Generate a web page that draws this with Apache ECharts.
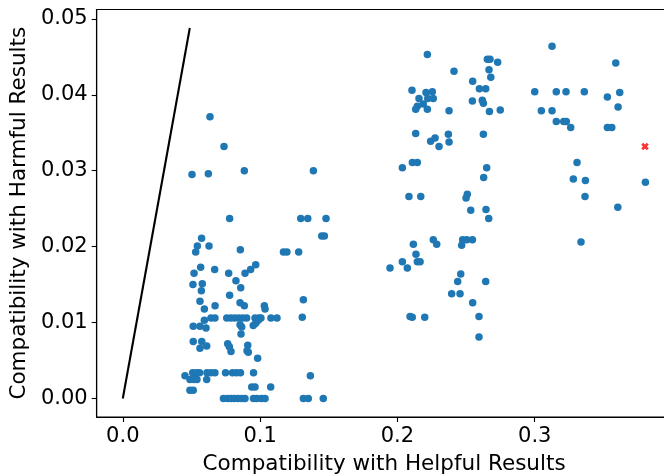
<!DOCTYPE html>
<html>
<head>
<meta charset="utf-8">
<script src="https://cdn.jsdelivr.net/npm/echarts@6/dist/echarts.min.js"></script>
<style>
html,body{margin:0;padding:0;background:#fff;}
#chart{width:664px;height:476px;}
</style>
</head>
<body>
<div id="chart"></div>
<script>
// Tick labels
const xTicks = [0, 0.1, 0.2, 0.3];
const yTicks = [0, 0.01, 0.02, 0.03, 0.04, 0.05];

// Reference line (x, y)
const refLine = [[0, 0], [0.0488, 0.0488]];

// Highlighted point (red x)
const highlight = [[0.3803, 0.0332]];

// Lower-left cluster: [helpful, harmful]
const lowCluster = [
  [0.0504,0.0295],[0.0623,0.0296],[0.0885,0.0300],[0.0778,0.0237],[0.0574,0.0211],
  [0.0543,0.0201],[0.0628,0.0201],[0.0531,0.0193],[0.0856,0.0196],[0.1170,0.0193],
  [0.1195,0.0193],[0.0567,0.0173],[0.0669,0.0170],[0.0519,0.0165],[0.0771,0.0165],
  [0.0890,0.0165],[0.0931,0.0170],[0.0968,0.0176],[0.0824,0.0155],[0.0511,0.0150],
  [0.0579,0.0151],[0.0859,0.0146],[0.0572,0.0142],[0.0778,0.0136],[0.0635,0.0371],
  [0.0737,0.0332],
  [0.0562,0.0128],[0.0672,0.0122],[0.0594,0.0118],[0.0854,0.0126],[0.0885,0.0122],
  [0.1031,0.0122],[0.1036,0.0118],[0.0594,0.0103],
  [0.0642,0.0106],[0.0671,0.0106],[0.0757,0.0106],[0.0786,0.0106],[0.0815,0.0106],
  [0.0844,0.0106],[0.0873,0.0106],[0.0902,0.0106],[0.0963,0.0106],[0.0992,0.0106],
  [0.1006,0.0106],[0.1079,0.0106],[0.1123,0.0106],
  [0.0513,0.0095],[0.0562,0.0095],[0.0606,0.0093],[0.0854,0.0097],[0.0866,0.0094],
  [0.0950,0.0096],[0.0968,0.0099],[0.0987,0.0103],[0.0861,0.0085],
  [0.0513,0.0075],[0.0575,0.0075],[0.0562,0.0066],[0.0611,0.0069],
  [0.0764,0.0072],[0.0776,0.0068],[0.0788,0.0062],
  [0.0910,0.0070],[0.0905,0.0063],[0.0914,0.0061],[0.0982,0.0053],
  [0.0509,0.0034],[0.0537,0.0034],[0.0559,0.0034],[0.0613,0.0034],[0.0642,0.0034],
  [0.0671,0.0034],[0.0748,0.0034],[0.0799,0.0034],[0.0828,0.0034],[0.0857,0.0034],
  [0.0952,0.0034],[0.0453,0.0030],
  [0.0489,0.0025],[0.0518,0.0025],[0.0540,0.0025],[0.0611,0.0025],
  [0.0939,0.0015],[0.0963,0.0015],[0.1077,0.0015],
  [0.0489,0.0011],[0.0513,0.0011],
  [0.0733,0],[0.0763,0],[0.0788,0],[0.0814,0],[0.0839,0],[0.0865,0],[0.0890,0],
  [0.0952,0],[0.0977,0],[0.1010,0],[0.1036,0],
  [0.1366,0.0030],[0.1315,0],[0.1351,0],[0.1460,0],
  [0.1315,0.0130],[0.1307,0.0107],
  [0.1388,0.0300],[0.1296,0.0237],[0.1347,0.0237],[0.1480,0.0237],[0.1449,0.0214],
  [0.1468,0.0214],[0.1281,0.0193]
];

// Middle cluster
const midCluster = [
  [0.2218,0.0453],[0.2412,0.0431],[0.2106,0.0406],[0.2208,0.0403],[0.2254,0.0404],
  [0.2157,0.0395],[0.2221,0.0395],[0.2261,0.0395],[0.2188,0.0388],[0.2145,0.0385],
  [0.2133,0.0381],[0.2218,0.0381],[0.2376,0.0379],[0.2133,0.0349],[0.2242,0.0339],
  [0.2274,0.0343],[0.2371,0.0348],[0.2376,0.0338],[0.2303,0.0332],[0.2626,0.0348],
  [0.2655,0.0447],[0.2674,0.0447],[0.2730,0.0443],[0.2667,0.0433],[0.2680,0.0423],
  [0.2548,0.0418],[0.2597,0.0408],[0.2643,0.0408],[0.2546,0.0392],[0.2618,0.0393],
  [0.2626,0.0389],[0.2670,0.0378],[0.2749,0.0380],
  [0.2036,0.0304],[0.2109,0.0311],[0.2145,0.0311],[0.2650,0.0304],[0.2628,0.0291],
  [0.2084,0.0266],[0.2170,0.0266],[0.2509,0.0269],[0.2500,0.0264],[0.2534,0.0248],
  [0.2645,0.0249],[0.2665,0.0237],[0.2116,0.0203],[0.2135,0.0190],[0.2036,0.0180],
  [0.1946,0.0172],[0.2072,0.0172],[0.2145,0.0180],[0.2165,0.0180],[0.2261,0.0209],
  [0.2286,0.0203],[0.2475,0.0209],[0.2505,0.0209],[0.2546,0.0209],[0.2468,0.0202],
  [0.2461,0.0164],[0.2439,0.0154],[0.2643,0.0154],
  [0.2092,0.0108],[0.2108,0.0107],[0.2199,0.0107],[0.2395,0.0138],[0.2456,0.0138],
  [0.2548,0.0126],[0.2594,0.0108],[0.2594,0.0081]
];

// Right cluster
const highCluster = [
  [0.3126,0.0464],[0.3000,0.0404],[0.3157,0.0404],[0.3228,0.0404],[0.3361,0.0404],
  [0.3048,0.0379],[0.3126,0.0379],[0.3157,0.0365],[0.3211,0.0365],[0.3230,0.0365],
  [0.3262,0.0357],[0.3590,0.0442],[0.3619,0.0403],[0.3529,0.0397],[0.3607,0.0384],
  [0.3529,0.0357],[0.3561,0.0357],[0.3308,0.0311],[0.3281,0.0289],[0.3369,0.0287],
  [0.3366,0.0266],[0.3806,0.0285],[0.3605,0.0252],[0.3337,0.0206]
];

const points = lowCluster.concat(midCluster, highCluster);

const FONT = 'DejaVu Sans';
const chart = echarts.init(document.getElementById('chart'), null, {renderer: 'canvas'});
chart.setOption({
  animation: false,
  backgroundColor: '#ffffff',
  grid: {
    left: 96.7, top: 9.5, right: -7.5, bottom: 59,
    show: true, borderColor: '#000', borderWidth: 1.1,
    containLabel: false, outerBoundsMode: 'none'
  },
  xAxis: {
    type: 'value', min: -0.019, max: 0.3996,
    name: 'Compatibility with Helpful Results', nameLocation: 'middle', nameGap: 36,
    nameTextStyle: {fontFamily: FONT, fontSize: 21.5, color: '#000'},
    splitLine: {show: false},
    axisLine: {show: true, onZero: false, lineStyle: {color: '#000', width: 1.1}},
    axisTick: {show: true, length: 5, customValues: xTicks, lineStyle: {color: '#000', width: 1.1}},
    axisLabel: {show: true, margin: 9, customValues: xTicks, fontFamily: FONT, fontSize: 21, color: '#000',
      formatter: v => Number(v).toFixed(1)}
  },
  yAxis: {
    type: 'value', min: -0.00244, max: 0.05124,
    name: 'Compatibility with Harmful Results', nameLocation: 'middle', nameGap: 63,
    nameTextStyle: {fontFamily: FONT, fontSize: 21.5, color: '#000'},
    splitLine: {show: false},
    axisLine: {show: true, onZero: false, lineStyle: {color: '#000', width: 1.1}},
    axisTick: {show: true, length: 5, customValues: yTicks, lineStyle: {color: '#000', width: 1.1}},
    axisLabel: {show: true, margin: 9, customValues: yTicks, fontFamily: FONT, fontSize: 21, color: '#000',
      formatter: v => Number(v).toFixed(2)}
  },
  series: [
    {
      type: 'line', data: refLine, showSymbol: false, symbol: 'none',
      lineStyle: {color: '#000', width: 2.1}, z: 2, silent: true
    },
    {
      type: 'scatter', data: points, symbol: 'circle', symbolSize: 7.5,
      itemStyle: {color: '#1f77b4', opacity: 1}, z: 3, silent: true
    },
    {
      type: 'scatter', data: highlight,
      symbol: 'path://M0,2.6L2.6,0L5,2.4L7.4,0L10,2.6L7.6,5L10,7.4L7.4,10L5,7.6L2.6,10L0,7.4L2.4,5Z',
      symbolSize: 7.5, itemStyle: {color: '#ff0000'}, z: 4, silent: true
    }
  ]
});
</script>
</body>
</html>
